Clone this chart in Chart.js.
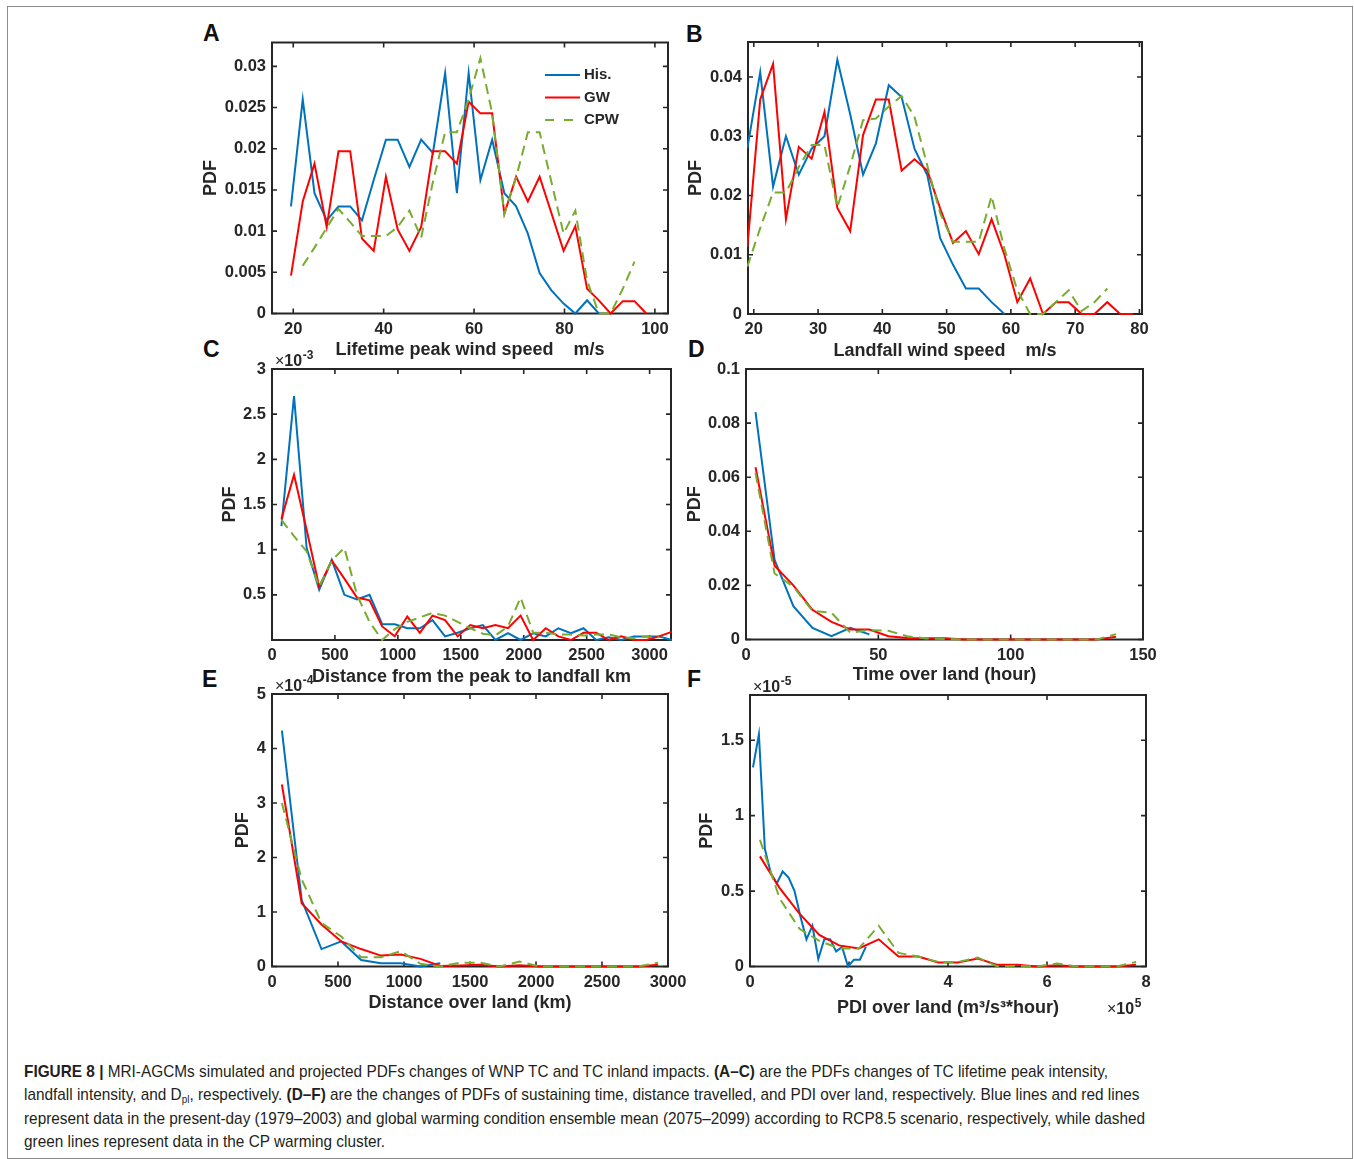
<!DOCTYPE html>
<html>
<head>
<meta charset="utf-8">
<script src="https://cdn.jsdelivr.net/npm/chart.js@4.4.0/dist/chart.umd.min.js"></script>
<style>
  html, body { margin: 0; padding: 0; background: #fff; }
  #page { position: relative; width: 1354px; height: 1159px; overflow: hidden; background: #fff; }
  #border { position: absolute; left: 7px; top: 6px; width: 1346px; height: 1153px; border: 1px solid #8c8c8c; box-sizing: border-box; }
  #page canvas { position: absolute; }
  .tag { position: absolute; font: bold 23px 'Liberation Sans', Arial, sans-serif; line-height: 23px; color: #111; }
  #caption {
    position: absolute; left: 24px; top: 1060px; white-space: nowrap;
    font-family: 'Liberation Sans', Arial, Helvetica, sans-serif;
    font-size: 17px; line-height: 23.3px; color: #231f20;
    transform-origin: 0 0;
  }
  #caption sub { font-size: 11px; vertical-align: -3px; line-height: 0; }
</style>
</head>
<body>
<div id="page">
  <div id="border"></div>
  <div class="tag" style="left:203px; top:22px">A</div>
  <div class="tag" style="left:686px; top:22.5px">B</div>
  <div class="tag" style="left:203px; top:337.5px">C</div>
  <div class="tag" style="left:688px; top:337.5px">D</div>
  <div class="tag" style="left:202px; top:667.5px">E</div>
  <div class="tag" style="left:687px; top:667.5px">F</div>
  <div id="caption"><span id="capFirst"><b>FIGURE 8 |</b> MRI-AGCMs simulated and projected PDFs changes of WNP TC and TC inland impacts. <b>(A–C)</b> are the PDFs changes of TC lifetime peak intensity,</span><br>landfall intensity, and D<sub>pl</sub>, respectively. <b>(D–F)</b> are the changes of PDFs of sustaining time, distance travelled, and PDI over land, respectively. Blue lines and red lines<br>represent data in the present-day (1979–2003) and global warming condition ensemble mean (2075–2099) according to RCP8.5 scenario, respectively, while dashed<br>green lines represent data in the CP warming cluster.</div>
</div>
<script>
// ---- A: lifetime peak wind speed (m/s) ----
const speedA = [19.5, 22.1, 24.7, 27.4, 30.0, 32.6, 35.2, 37.8, 40.5, 43.1, 45.7, 48.3, 50.9, 53.6, 56.2,
  58.8, 61.4, 64.0, 66.7, 69.3, 71.9, 74.5, 77.1, 79.8, 82.4, 85.0, 87.6, 90.2, 92.9, 95.5, 98.1];
const hisA = [0.013, 0.026, 0.0146, 0.0113, 0.013, 0.013, 0.0113, 0.0162, 0.0211, 0.0211, 0.0178, 0.0211,
  0.0195, 0.0292, 0.0146, 0.0292, 0.0162, 0.0211, 0.0146, 0.013, 0.0097, 0.0049, 0.0028, 0.0012, 0, 0.0016, 0];
const gwA = [0.0046, 0.0136, 0.0182, 0.0105, 0.0197, 0.0197, 0.0091, 0.0076, 0.0166, 0.0102, 0.0076, 0.0105,
  0.0197, 0.0197, 0.0182, 0.0257, 0.0243, 0.0243, 0.0121, 0.0166, 0.0136, 0.0166, 0.0122, 0.0076, 0.0106,
  0.003, 0.0016, 0, 0.0015, 0.0015, 0];
const cpwA = [null, 0.0058, 0.008, 0.0104, 0.0127, 0.0111, 0.0094, 0.0094, 0.0094, 0.0105, 0.0125, 0.0092,
  0.016, 0.022, 0.022, 0.026, 0.031, 0.0243, 0.0121, 0.0165, 0.022, 0.022, 0.016, 0.0097, 0.0125, 0.004,
  0, 0, 0.003, 0.0063];
const xTicksA = [20, 40, 60, 80, 100];
const yTicksA = [0, 0.005, 0.01, 0.015, 0.02, 0.025, 0.03];

// ---- B: landfall wind speed (m/s) ----
const speedB = [19, 21, 23, 25, 27, 29, 31, 33, 35, 37, 39, 41, 43, 45, 47, 49, 51, 53, 55, 57, 59,
  61, 63, 65, 67, 69, 71, 73, 75, 77, 79];
const hisB = [0.028, 0.0408, 0.0215, 0.030, 0.0235, 0.0279, 0.030, 0.0429, 0.0337, 0.0235, 0.0288, 0.0386,
  0.0366, 0.0279, 0.0234, 0.0128, 0.0083, 0.0043, 0.0043, 0.002, 0];
const gwB = [0.0113, 0.0362, 0.0422, 0.016, 0.0282, 0.0262, 0.0341, 0.0179, 0.014, 0.0302, 0.0362, 0.0362,
  0.0242, 0.0261, 0.0242, 0.0178, 0.012, 0.014, 0.0101, 0.016, 0.01, 0.002, 0.006, 0, 0.002, 0.002, 0, 0,
  0.002, 0, 0];
const cpwB = [0.008, 0.0145, 0.0205, 0.0205, 0.0248, 0.0285, 0.0285, 0.018, 0.025, 0.0327, 0.033, 0.035,
  0.0368, 0.0333, 0.025, 0.017, 0.0122, 0.0122, 0.0122, 0.0199, 0.011, 0.004, 0, 0, 0.002, 0.004, 0.0005,
  0.002, 0.0043];
const xTicksB = [20, 30, 40, 50, 60, 70, 80];
const yTicksB = [0, 0.01, 0.02, 0.03, 0.04];

// ---- C: distance from the peak to landfall (km), PDF x1e-3 ----
const distC = [75, 175, 275, 375, 475, 575, 675, 775, 875, 975, 1075, 1175, 1275, 1375, 1475, 1575, 1675,
  1775, 1875, 1975, 2075, 2175, 2275, 2375, 2475, 2575, 2675, 2775, 2875, 2975, 3075, 3175];
const hisC = [1.26, 2.70, 1.02, 0.555, 0.887, 0.5, 0.45, 0.5, 0.175, 0.175, 0.13, 0.13, 0.22, 0.04, 0.08,
  0.13, 0.165, 0, 0.075, 0, 0.075, 0.04, 0.13, 0.075, 0.13, 0, 0.03, 0, 0.04, 0.04, 0.04, 0];
const gwC = [1.34, 1.83, 1.22, 0.59, 0.88, 0.68, 0.47, 0.44, 0.15, 0.04, 0.26, 0.08, 0.27, 0.22, 0.04,
  0.165, 0.13, 0.165, 0.13, 0.27, 0, 0.13, 0.04, 0, 0.08, 0.08, 0, 0.04, 0, 0, 0.04, 0.09];
const cpwC = [1.33, 1.15, 0.98, 0.59, 0.88, 1.02, 0.5, 0.2, 0, 0.12, 0.2, 0.25, 0.3, 0.27, 0.2, 0.13, 0.07,
  0.05, 0.15, 0.47, 0.08, 0.08, 0.06, 0.06, 0.05, 0.06, 0.06, 0.03, 0.02, 0.04, 0.03];
const xTicksC = [0, 500, 1000, 1500, 2000, 2500, 3000];
const yTicksC = [0.5, 1, 1.5, 2, 2.5, 3];

// ---- D: time over land (hour) ----
const hoursD = [3.6, 10.8, 17.9, 25.1, 32.3, 39.4, 46.6, 53.8, 60.9, 68.1, 75.3, 82.4, 89.6, 96.8, 103.9,
  111.1, 118.3, 125.4, 132.6, 139.8];
const hisD = [0.0841, 0.0294, 0.0123, 0.0043, 0.0012, 0.0043, 0.0019];
const gwD = [0.0637, 0.0273, 0.02, 0.011, 0.0065, 0.0037, 0.0037, 0.0012, 0.0006, 0.0005, 0.0005, 0, 0, 0,
  0, 0, 0, 0, 0, 0.001];
const cpwD = [0.0615, 0.0244, 0.0195, 0.0106, 0.0099, 0.0025, 0.0035, 0.0032, 0.0012, 0.0004, 0.0002, 0, 0,
  0, 0, 0, 0, 0, 0, 0.002];
const xTicksD = [0, 50, 100, 150];
const yTicksD = [0, 0.02, 0.04, 0.06, 0.08, 0.1];

// ---- E: distance over land (km), PDF x1e-4 ----
const distE = [75, 225, 375, 525, 675, 825, 975, 1125, 1275, 1425, 1575, 1725, 1875, 2025, 2175, 2325, 2475,
  2625, 2775, 2925];
const hisE = [4.33, 1.22, 0.32, 0.46, 0.12, 0.06, 0.06, 0, 0.06];
const gwE = [3.34, 1.16, 0.77, 0.46, 0.32, 0.2, 0.22, 0.14, 0.01, 0.02, 0.03, 0, 0.025, 0, 0, 0, 0, 0, 0,
  0.03];
const cpwE = [3.0, 1.6, 0.8, 0.55, 0.17, 0.17, 0.28, 0.05, 0, 0.07, 0.07, 0, 0.09, 0, 0, 0, 0, 0, 0, 0.07];
const xTicksE = [0, 500, 1000, 1500, 2000, 2500, 3000];
const yTicksE = [0, 1, 2, 3, 4, 5];

// ---- F: PDI over land (x1e5 m3/s3*hour), PDF x1e-5 ----
const pdiHisF = [0.06, 0.18, 0.30, 0.42, 0.54, 0.66, 0.78, 0.90, 1.02, 1.14, 1.26, 1.38, 1.50, 1.62, 1.74,
  1.86, 1.98, 2.10, 2.22, 2.34];
const pdiF = [0.2, 0.6, 1.0, 1.4, 1.8, 2.2, 2.6, 3.0, 3.4, 3.8, 4.2, 4.6, 5.0, 5.4, 5.8, 6.2, 6.6, 7.0, 7.4,
  7.8];
const hisF = [1.32, 1.54, 0.78, 0.62, 0.55, 0.63, 0.59, 0.5, 0.33, 0.18, 0.27, 0.05, 0.18, 0.18, 0.1, 0.13,
  0, 0.045, 0.045, 0.13];
const gwF = [0.73, 0.52, 0.35, 0.21, 0.14, 0.12, 0.18, 0.066, 0.066, 0.026, 0.026, 0.053, 0.011, 0.011, 0,
  0.008, 0, 0, 0, 0.011];
const cpwF = [0.84, 0.45, 0.25, 0.17, 0.12, 0.12, 0.27, 0.09, 0.066, 0.03, 0.03, 0.06, 0, 0.005, 0, 0.02, 0,
  0, 0, 0.03];
const xTicksF = [0, 2, 4, 6, 8];
const yTicksF = [0, 0.5, 1, 1.5];

const FONT = "'Liberation Sans', Arial, Helvetica, sans-serif";
const INK = '#262626';
const BLUE = '#0072BD', RED = '#FF0000', GREEN = '#77AC30';

Chart.defaults.font.family = FONT;
Chart.defaults.color = INK;

const series = (xs, ys) => ys.map((y, i) => ({ x: xs[i], y }));

function lines(xHis, his, xGw, gw, xCpw, cpw) {
  return [
    { label: 'His.', data: series(xHis, his), borderColor: BLUE, order: 3 },
    { label: 'GW', data: series(xGw, gw), borderColor: RED, order: 2 },
    { label: 'CPW', data: series(xCpw, cpw), borderColor: GREEN, borderDash: [10, 6], order: 1 },
  ];
}

// box around the plot with inward ticks on all four sides
const axesBox = {
  id: 'axesBox',
  beforeDatasetsDraw(chart) {
    const { ctx, chartArea: a, scales } = chart;
    ctx.save();
    ctx.strokeStyle = INK;
    ctx.lineWidth = 2;
    ctx.strokeRect(a.left, a.top, a.width, a.height);
    ctx.lineWidth = 1.6;
    ctx.beginPath();
    for (const t of scales.x.ticks) {
      const px = scales.x.getPixelForValue(t.value);
      ctx.moveTo(px, a.bottom); ctx.lineTo(px, a.bottom - 5);
      ctx.moveTo(px, a.top); ctx.lineTo(px, a.top + 5);
    }
    for (const t of scales.y.ticks) {
      const py = scales.y.getPixelForValue(t.value);
      ctx.moveTo(a.left, py); ctx.lineTo(a.left + 5, py);
      ctx.moveTo(a.right, py); ctx.lineTo(a.right - 5, py);
    }
    ctx.stroke();
    ctx.restore();
  }
};

// legend drawn inside panel A
const keyBox = {
  id: 'keyBox',
  afterDatasetsDraw(chart, args, opts) {
    if (!opts.show) return;
    const { ctx, chartArea: a } = chart;
    ctx.save();
    ctx.font = `bold 15px ${FONT}`;
    ctx.textBaseline = 'middle';
    ctx.fillStyle = INK;
    chart.data.datasets.forEach((ds, i) => {
      const y = a.top + 32.5 + i * 22.5;
      const x0 = a.right - 123;
      ctx.strokeStyle = ds.borderColor;
      ctx.lineWidth = 2;
      ctx.setLineDash(ds.borderDash ? [9, 10] : []);
      ctx.beginPath(); ctx.moveTo(x0, y); ctx.lineTo(x0 + 35, y); ctx.stroke();
      ctx.fillText(ds.label, x0 + 39, y);
    });
    ctx.restore();
  }
};

// "x10^n" multipliers next to the axes
function power(ctx, exp, x, y) {
  ctx.save();
  ctx.fillStyle = INK;
  ctx.textBaseline = 'alphabetic';
  ctx.textAlign = 'left';
  ctx.font = `16px ${FONT}`;
  ctx.fillText('×', x, y);
  let w = ctx.measureText('×').width;
  ctx.font = `bold 16px ${FONT}`;
  ctx.fillText('10', x + w, y);
  w += ctx.measureText('10').width;
  ctx.font = `bold 12px ${FONT}`;
  ctx.fillText(exp, x + w + 0.5, y - 7);
  ctx.restore();
}
const powers = {
  id: 'powers',
  afterDraw(chart, args, opts) {
    const { ctx, chartArea: a } = chart;
    if (opts.y) power(ctx, opts.y, a.left + 3, a.top - 3);
    if (opts.x) power(ctx, opts.x, a.right - 39, a.bottom + 47);
  }
};

const label = v => String(+v.toFixed(4));
const page = document.getElementById('page');

function panel(p) {
  const [left, top, right, bottom] = p.box;
  const padTop = 30, padRight = 30;
  const cl = Math.round(p.yTitleX - 10.8);
  const ct = Math.round(top - padTop);
  const width = Math.round(right + padRight - cl);
  const height = Math.round(p.xTitleY + 10.8 - ct);
  const yW = left - cl;
  const xH = ct + height - bottom;

  const canvas = document.createElement('canvas');
  canvas.width = width; canvas.height = height;
  canvas.style.left = cl + 'px'; canvas.style.top = ct + 'px';
  canvas.style.width = width + 'px'; canvas.style.height = height + 'px';
  page.appendChild(canvas);

  const tickFont = { size: 16.5, weight: 'bold' };
  const titleFont = { size: 18, weight: 'bold' };

  new Chart(canvas, {
    type: 'line',
    data: { datasets: p.datasets },
    options: {
      responsive: false,
      devicePixelRatio: 1,
      animation: false,
      events: [],
      layout: { padding: { top: top - ct, right: cl + width - right, left: 0, bottom: 0 } },
      elements: {
        line: { borderWidth: 2, tension: 0, fill: false },
        point: { radius: 0 }
      },
      datasets: { line: { clip: { left: 1, right: 1, top: 3, bottom: 3 }, spanGaps: false } },
      plugins: {
        legend: { display: false },
        tooltip: { enabled: false },
        keyBox: { show: !!p.legend },
        powers: { y: p.yExp, x: p.xExp }
      },
      scales: {
        x: {
          type: 'linear', min: p.xMin, max: p.xMax,
          grid: { display: false, drawTicks: false },
          border: { display: false },
          afterBuildTicks: s => { s.ticks = p.xTicks.map(v => ({ value: v })); },
          afterFit: s => { s.height = xH; },
          ticks: { autoSkip: false, maxRotation: 0, padding: 6, font: tickFont, color: INK, callback: label },
          title: { display: true, text: p.xTitle, font: titleFont, color: INK, padding: 0 }
        },
        y: {
          type: 'linear', min: p.yMin, max: p.yMax,
          grid: { display: false, drawTicks: false },
          border: { display: false },
          afterBuildTicks: s => { s.ticks = p.yTicks.map(v => ({ value: v })); },
          afterFit: s => { s.width = yW; },
          ticks: { autoSkip: false, padding: 6, font: tickFont, color: INK, callback: label },
          title: { display: true, text: 'PDF', font: titleFont, color: INK, padding: 0 }
        }
      }
    },
    plugins: [axesBox, keyBox, powers]
  });
}

panel({
  box: [272, 42.5, 668, 313.5], yTitleX: 211, xTitleY: 350,
  xMin: 15.3, xMax: 102.9, yMin: 0, yMax: 0.0329, xTicks: xTicksA, yTicks: yTicksA,
  xTitle: 'Lifetime peak wind speed    m/s', legend: true,
  datasets: lines(speedA, hisA, speedA, gwA, speedA, cpwA)
});
panel({
  box: [748, 42, 1142, 314], yTitleX: 695.5, xTitleY: 351,
  xMin: 19.1, xMax: 80.4, yMin: 0, yMax: 0.0459, xTicks: xTicksB, yTicks: yTicksB,
  xTitle: 'Landfall wind speed    m/s',
  datasets: lines(speedB, hisB, speedB, gwB, speedB, cpwB)
});
panel({
  box: [272, 369, 671, 640], yTitleX: 230, xTitleY: 676.7,
  xMin: 0, xMax: 3170, yMin: 0, yMax: 3, xTicks: xTicksC, yTicks: yTicksC, yExp: '-3',
  xTitle: 'Distance from the peak to landfall km',
  datasets: lines(distC, hisC, distC, gwC, distC, cpwC)
});
panel({
  box: [746, 369, 1143, 639.5], yTitleX: 694.5, xTitleY: 675,
  xMin: 0, xMax: 150, yMin: 0, yMax: 0.1, xTicks: xTicksD, yTicks: yTicksD,
  xTitle: 'Time over land (hour)',
  datasets: lines(hoursD, hisD, hoursD, gwD, hoursD, cpwD)
});
panel({
  box: [272, 694, 668, 966.5], yTitleX: 243, xTitleY: 1003,
  xMin: 0, xMax: 3000, yMin: 0, yMax: 5, xTicks: xTicksE, yTicks: yTicksE, yExp: '-4',
  xTitle: 'Distance over land (km)',
  datasets: lines(distE, hisE, distE, gwE, distE, cpwE)
});
panel({
  box: [750, 695, 1146, 966.5], yTitleX: 707, xTitleY: 1008,
  xMin: 0, xMax: 8, yMin: 0, yMax: 1.8, xTicks: xTicksF, yTicks: yTicksF, yExp: '-5', xExp: '5',
  xTitle: 'PDI over land (m³/s³*hour)',
  datasets: lines(pdiHisF, hisF, pdiF, gwF, pdiF, cpwF)
});

// squeeze the caption horizontally so its first line spans the printed width
const caption = document.getElementById('caption');
const firstW = document.getElementById('capFirst').getBoundingClientRect().width;
caption.style.transform = `scaleX(${(1084 / firstW).toFixed(4)})`;
</script>
</body>
</html>
